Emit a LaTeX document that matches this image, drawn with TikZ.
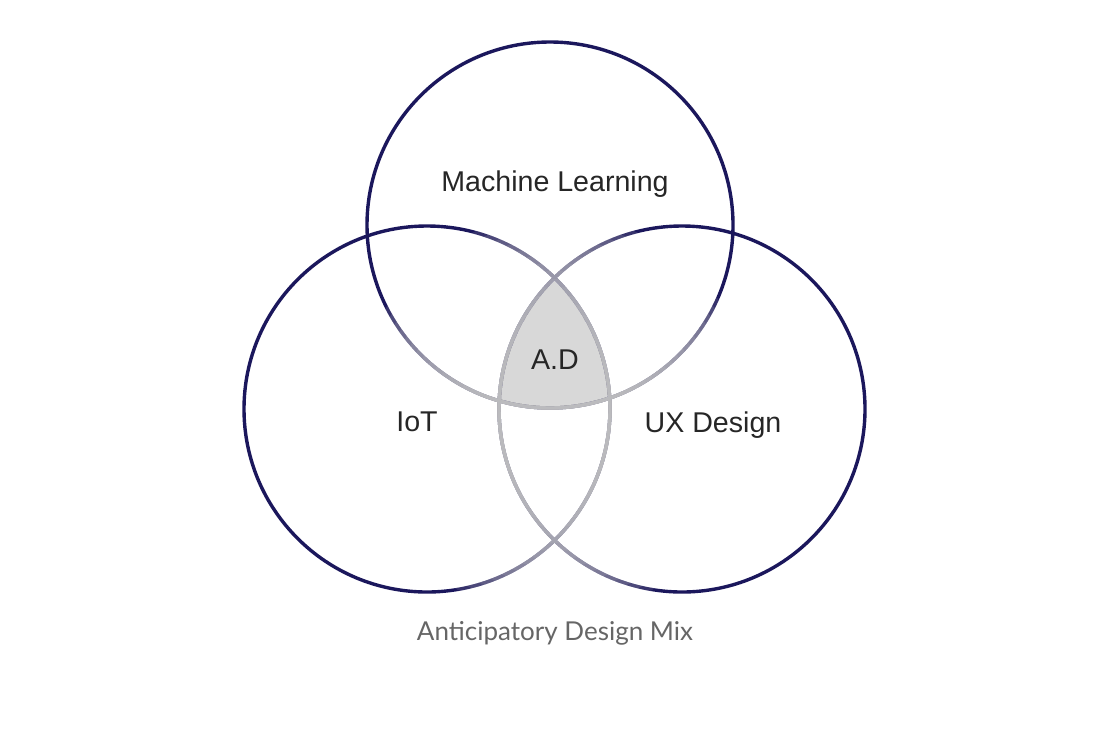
\documentclass[tikz,border=0pt]{standalone}
\usepackage{fontspec}
\setmainfont{Liberation Sans}
\newfontfamily\captionfont{Lato}

\definecolor{vennnavy}{HTML}{1B175C}
\definecolor{venngrey}{HTML}{C4C4C4}
\definecolor{adfill}{HTML}{D8D8D8}
\definecolor{labeltext}{HTML}{262626}
\definecolor{captiontext}{HTML}{666666}

\begin{document}
\begin{tikzpicture}[x=0.5pt, y=-0.5pt,
  every node/.style={font=\fontsize{14.3}{16}\selectfont, text=labeltext},
  ring/.style={line width=1.7pt}]
  \useasboundingbox (0,0) rectangle (1112,734);

  \coordinate (mlc) at (550,225);
  \coordinate (iotc) at (427,409);
  \coordinate (uxc) at (682,409);
  \coordinate (fadec) at (555,415);

  % shared region
  \begin{scope}
    \clip (mlc) circle (183);
    \clip (iotc) circle (183);
    \fill[adfill] (uxc) circle (183);
  \end{scope}

  % the three rings, fading to grey towards the middle
  \draw[ring, vennnavy] (mlc) circle (183) (iotc) circle (183) (uxc) circle (183);
  \foreach \r in {56,64,...,200} {
    \begin{scope}
      \clip (fadec) circle (\r);
      \draw[ring, venngrey, opacity=0.16] (mlc) circle (183) (iotc) circle (183) (uxc) circle (183);
    \end{scope}
  }

  \node (ml) at (555,184) {Machine Learning};
  \node (iot) at (417,422) {IoT};
  \node (ux) at (713,425) {UX Design};
  \node (ad) at (555,360) {A.D};

  \node[font=\captionfont\fontsize{13}{15}\selectfont, text=captiontext] (cap) at (555,633) {Anticipatory Design Mix};
\end{tikzpicture}
\end{document}
